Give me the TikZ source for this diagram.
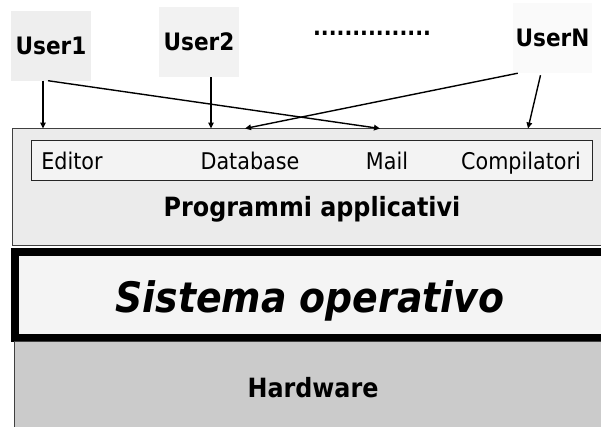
\documentclass[tikz,border=0pt]{standalone}
\usepackage{fontspec}
\setmainfont{DejaVu Sans Condensed}
\usetikzlibrary{arrows.meta}
\definecolor{uone}{HTML}{EEEEEE}
\definecolor{utwo}{HTML}{F2F2F2}
\definecolor{uthree}{HTML}{FAFAFA}
\definecolor{appfill}{HTML}{EBEBEB}
\definecolor{innerfill}{HTML}{F3F3F3}
\definecolor{osfill}{HTML}{F4F4F4}
\definecolor{hwfill}{HTML}{CBCBCB}
\definecolor{edge}{HTML}{404040}
\begin{document}
\begin{tikzpicture}[x=1pt,y=-1pt,
  userbox/.style={fill=#1, inner sep=0pt, minimum width=80pt, minimum height=70pt,
    font=\bfseries\fontsize{24}{24}\selectfont},
  lbl/.style={anchor=base, inner sep=0pt, font=\fontsize{23}{23}\selectfont},
  blbl/.style={anchor=base, inner sep=0pt, font=\bfseries\fontsize{26.5}{26.5}\selectfont},
  arr/.style={line width=1.4pt, -{Triangle[length=6pt,width=5.5pt]}}]
\useasboundingbox (0,0) rectangle (601,426);
\begin{scope}
\clip (0,0) rectangle (601,426);
\fill[white] (0,0) rectangle (601,426);
\draw[edge, line width=1pt, fill=appfill] (12.7,128.3) rectangle (640,245.7);
\draw[black!85, line width=1pt, fill=innerfill] (31.7,140) rectangle (592.7,180);
\draw[black, line width=8pt, fill=osfill] (15.2,252.2) rectangle (640,337.8);
\draw[edge, line width=0.8pt, fill=hwfill] (14,341.8) rectangle (640,440);
\end{scope}
% users
\node[userbox=uone] (user1) at (51,45.5) {User1};
\node[userbox=utwo] (user2) at (199,42) {User2};
\node[userbox=uthree, minimum width=79pt] (userN) at (552.5,38) {UserN};
\node[anchor=base, inner sep=0pt, font=\bfseries\fontsize{23}{23}\selectfont] (dots) at (372,35) {...............};
% application labels
\node[lbl] (editor) at (72,169) {Editor};
\node[lbl] (database) at (250,169) {Database};
\node[lbl] (mail) at (387,169) {Mail};
\node[lbl] (comp) at (521,169) {Compilatori};
\node[blbl] (apps) at (312,216) {Programmi applicativi};
\node[anchor=base, inner sep=0pt, font=\bfseries\itshape\fontsize{42}{42}\selectfont] (os) at (310,312) {Sistema operativo};
\node[blbl] (hw) at (313,397) {Hardware};
% arrow targets on top of the application box
\coordinate (tEd) at (43,128.5);
\coordinate (tDb) at (211,128.5);
\coordinate (tDbN) at (245,128.5);
\coordinate (tMail) at (380,128.5);
\coordinate (tComp) at (528,128.5);
% connectors
\draw[arr] (user1.south -| tEd) -- (tEd);
\draw[arr] ([xshift=-3pt]user1.south) -- (tMail);
\draw[arr] (user2.south -| tDb) -- (tDb);
\draw[arr] ([xshift=5pt]userN.south west) -- (tDbN);
\draw[arr] ([xshift=-12pt,yshift=-2pt]userN.south) -- (tComp);
\end{tikzpicture}
\end{document}
